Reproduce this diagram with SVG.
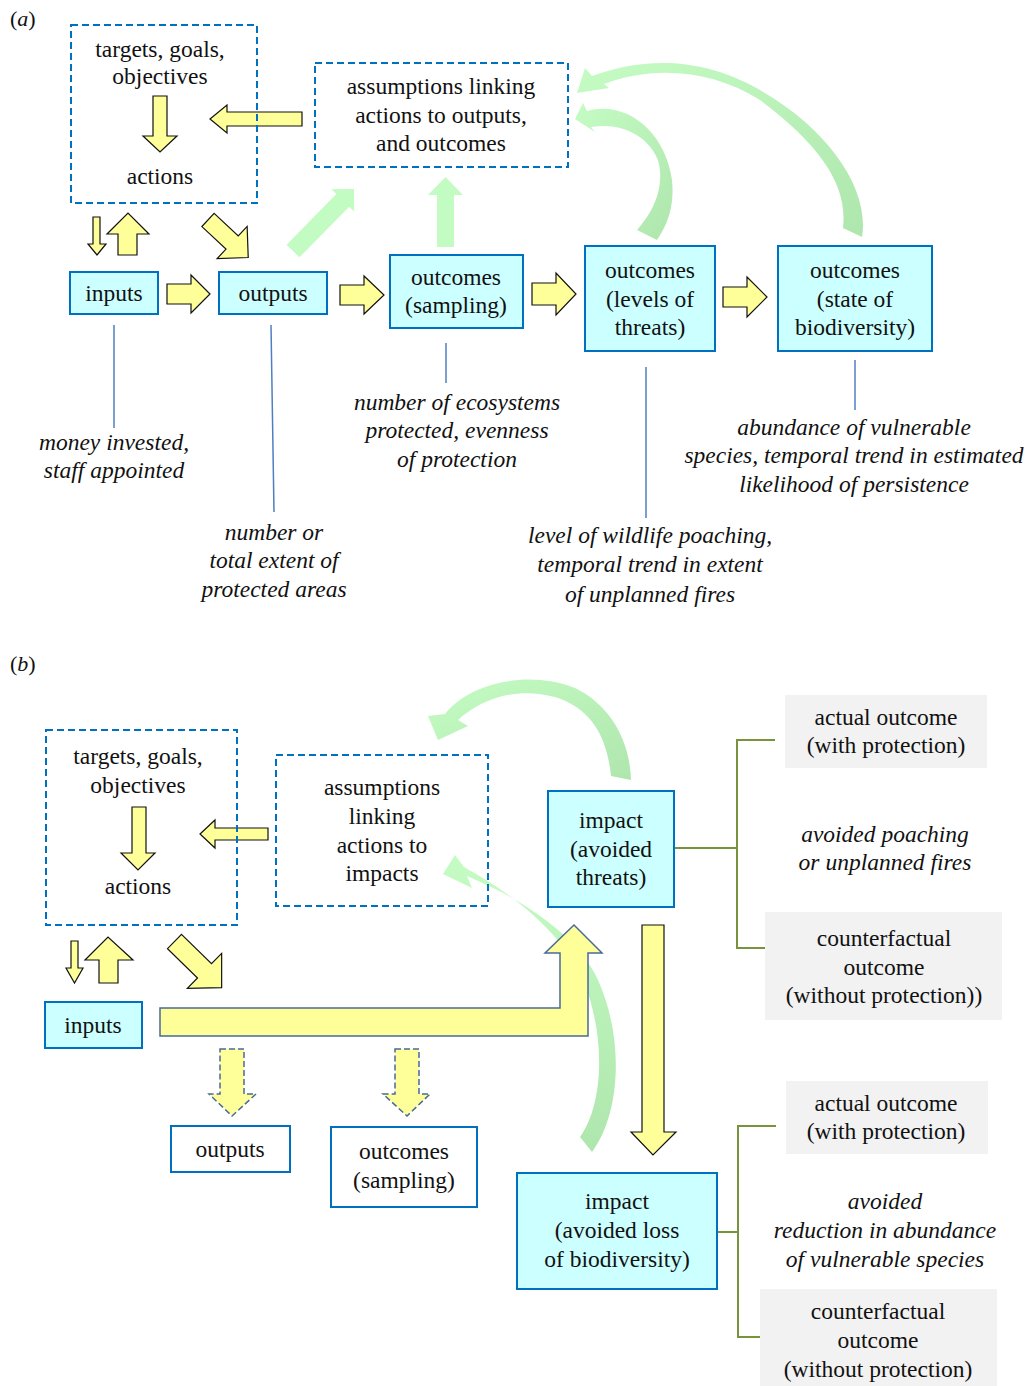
<svg xmlns="http://www.w3.org/2000/svg" width="1033" height="1386" viewBox="0 0 1033 1386">
<defs>
<style>
text{font-family:"Liberation Serif","Times New Roman",serif;font-size:23.5px;fill:#111;text-anchor:middle}
.it{font-style:italic}
.box{fill:#ccffff;stroke:#0070c0;stroke-width:2}
.wbox{fill:#fff;stroke:#0070c0;stroke-width:2}
.dash{fill:none;stroke:#0070c0;stroke-width:2;stroke-dasharray:7 4}
.gray{fill:#f2f2f2}
.ya{fill:#ffff99;stroke:#111;stroke-width:1.2}
.yb{fill:#ffff99;stroke:#4a6a9a;stroke-width:1.5}
.yd{fill:#ffff99;stroke:#4a6a9a;stroke-width:1.5;stroke-dasharray:6 3}
.ga{fill:#c3fcc3}
.ln{stroke:#4f7fc0;stroke-width:1.5;fill:none}
.br{stroke:#77933c;stroke-width:2;fill:none}
</style>
<linearGradient id="gA" x1="0" y1="0" x2="1" y2="1"><stop offset="0" stop-color="#c4fcc4"/><stop offset="1" stop-color="#aee6ae"/></linearGradient>
<linearGradient id="gB" x1="0" y1="0" x2="1" y2="1"><stop offset="0" stop-color="#c4fcc4"/><stop offset="1" stop-color="#aee6ae"/></linearGradient>
<linearGradient id="gC" x1="0" y1="0" x2="0" y2="1"><stop offset="0" stop-color="#c4fcc4"/><stop offset="1" stop-color="#aee6ae"/></linearGradient>
</defs>
<rect width="1033" height="1386" fill="#fff"/>

<text x="10" y="26" style="text-anchor:start;font-size:22px">(<tspan class="it">a</tspan>)</text>
<text x="10" y="671" style="text-anchor:start;font-size:22px">(<tspan class="it">b</tspan>)</text>

<g id="connectors">
<!-- part a green arrows -->
<path class="ga" d="M0,-9 L71,-9 L71,-16 L87,0 L71,16 L71,9 L0,9 Z" transform="translate(293,251) rotate(-45.5)"/>
<path class="ga" d="M437,247 L437,195 L428,195 L445.5,177 L463,195 L454,195 L454,247 Z"/>
<path fill="url(#gA)" d="M637,230 C655,210 665,185 658,160 C648,135 620,122 591,127 L595,132 L575,119 L583,103 L587,111 C625,100 665,130 672,180 C675,210 665,228 657,240 Z"/>
<path fill="url(#gB)" d="M843,228 C848,185 820,145 760,100 C710,68 650,66 604,84 L609,88 L577,93 L585,68 L592,76 C640,58 700,55 760,90 C830,130 870,190 862,237 Z"/>
<!-- part a yellow arrows -->
<path class="ya" d="M153,96 L167,96 L167,136 L177,136 L160,152 L143,136 L153,136 Z"/>
<path class="ya" d="M302,112 L227,112 L227,105 L210,119 L227,133 L227,126 L302,126 Z"/>
<path class="ya" d="M93,217 L100,217 L100,244 L106,244 L97,255 L88,244 L93,244 Z"/>
<path class="ya" d="M118,255 L118,234 L107,234 L128,213 L149,234 L137,234 L137,255 Z"/>
<path class="ya" d="M0,-9 L33,-9 L33,-22 L55,0 L33,22 L33,9 L0,9 Z" transform="translate(208,220) rotate(43)"/>
<path class="ya" d="M167,284 L191,284 L191,275 L210,294 L191,313 L191,304 L167,304 Z"/>
<path class="ya" d="M340,285 L364,285 L364,276 L384,295 L364,314 L364,305 L340,305 Z"/>
<path class="ya" d="M532,283 L556,283 L556,273 L576,294 L556,315 L556,305 L532,305 Z"/>
<path class="ya" d="M723,287 L747,287 L747,277 L767,297 L747,317 L747,307 L723,307 Z"/>
<!-- part a lines -->
<line class="ln" x1="114" y1="325" x2="114" y2="428"/>
<line class="ln" x1="271" y1="325" x2="274" y2="512"/>
<line class="ln" x1="446" y1="343" x2="446" y2="383"/>
<line class="ln" x1="646" y1="367" x2="646" y2="518"/>
<line class="ln" x1="855" y1="360" x2="855" y2="410"/>

<!-- part b green arrows -->
<path fill="url(#gB)" d="M611,776 C607,735 590,708 555,697 C515,686 480,700 458,720 L468,726 L438,740 L428,716 L445,714 C470,682 530,670 575,688 C610,705 630,740 631,780 Z"/>
<path fill="url(#gC)" d="M580,1137 C603,1105 606,1040 585,985 C565,935 515,895 464,867 L455,855 L443,874 L472,888 L467,876 C520,898 578,935 598,980 C625,1040 620,1115 592,1152 Z"/>
<!-- part b yellow arrows -->
<path class="ya" d="M132,807 L146,807 L146,853 L155,853 L138,870 L121,853 L132,853 Z"/>
<path class="ya" d="M268,828 L215,828 L215,820 L200,834 L215,848 L215,840 L268,840 Z"/>
<path class="ya" d="M71,941 L78,941 L78,968 L83,968 L74.5,983 L66,968 L71,968 Z"/>
<path class="ya" d="M99,983 L99,960 L85,960 L108,937 L133,960 L118,960 L118,983 Z"/>
<path class="ya" d="M0,-10 L42,-10 L42,-24.5 L66,0 L42,24.5 L42,10 L0,10 Z" transform="translate(174.5,941.5) rotate(44.4)"/>
<path class="yb" d="M160,1008 L560,1008 L560,953 L545,953 L574,925 L602,953 L588,953 L588,1036 L160,1036 Z"/>
<path class="ya" d="M642,925 L664,925 L664,1132 L676,1132 L653,1155 L631,1132 L642,1132 Z"/>
<path class="yd" d="M220,1049 L244,1049 L244,1094 L256,1094 L232,1116 L209,1094 L220,1094 Z"/>
<path class="yd" d="M395,1049 L419,1049 L419,1094 L430,1094 L407,1116 L383,1094 L395,1094 Z"/>
<!-- brackets -->
<path class="br" d="M775,740 L737,740 L737,948 L774,948 M674,848 L737,848"/>
<path class="br" d="M776,1126 L738,1126 L738,1337 L775,1337 M718,1232 L738,1232"/>
</g>

<!-- Part a nodes -->
<g id="a-targets">
<rect class="dash" x="71" y="25" width="186" height="178"/>
<text x="160" y="57">targets, goals,</text>
<text x="160" y="84">objectives</text>
<text x="160" y="184">actions</text>
</g>
<g id="a-assumptions">
<rect class="dash" x="315" y="63" width="253" height="104"/>
<text x="441" y="94">assumptions linking</text>
<text x="441" y="123">actions to outputs,</text>
<text x="441" y="151">and outcomes</text>
</g>
<g id="a-inputs">
<rect class="box" x="70" y="272" width="88" height="42"/>
<text x="114" y="301">inputs</text>
</g>
<g id="a-outputs">
<rect class="box" x="219" y="272" width="108" height="42"/>
<text x="273" y="301">outputs</text>
</g>
<g id="a-sampling">
<rect class="box" x="390" y="255" width="133" height="73"/>
<text x="456" y="285">outcomes</text>
<text x="456" y="313">(sampling)</text>
</g>
<g id="a-threats">
<rect class="box" x="585" y="246" width="130" height="105"/>
<text x="650" y="278">outcomes</text>
<text x="650" y="307">(levels of</text>
<text x="650" y="335">threats)</text>
</g>
<g id="a-biodiversity">
<rect class="box" x="778" y="246" width="154" height="105"/>
<text x="855" y="278">outcomes</text>
<text x="855" y="307">(state of</text>
<text x="855" y="335">biodiversity)</text>
</g>
<g id="a-labels">
<text class="it" x="114" y="450">money invested,</text>
<text class="it" x="114" y="478">staff appointed</text>
<text class="it" x="274" y="540">number or</text>
<text class="it" x="274" y="568">total extent of</text>
<text class="it" x="274" y="597">protected areas</text>
<text class="it" x="457" y="410">number of ecosystems</text>
<text class="it" x="457" y="438">protected, evenness</text>
<text class="it" x="457" y="467">of protection</text>
<text class="it" x="650" y="543">level of wildlife poaching,</text>
<text class="it" x="650" y="572">temporal trend in extent</text>
<text class="it" x="650" y="602">of unplanned fires</text>
<text class="it" x="854" y="435">abundance of vulnerable</text>
<text class="it" x="854" y="463">species, temporal trend in estimated</text>
<text class="it" x="854" y="492">likelihood of persistence</text>
</g>

<!-- Part b nodes -->
<g id="b-targets">
<rect class="dash" x="46" y="730" width="191" height="195"/>
<text x="138" y="764">targets, goals,</text>
<text x="138" y="793">objectives</text>
<text x="138" y="894">actions</text>
</g>
<g id="b-assumptions">
<rect class="dash" x="276" y="755" width="212" height="151"/>
<text x="382" y="795">assumptions</text>
<text x="382" y="824">linking</text>
<text x="382" y="853">actions to</text>
<text x="382" y="881">impacts</text>
</g>
<g id="b-inputs">
<rect class="box" x="45" y="1002" width="97" height="46"/>
<text x="93" y="1033">inputs</text>
</g>
<g id="b-outputs">
<rect class="wbox" x="171" y="1126" width="119" height="46"/>
<text x="230" y="1157">outputs</text>
</g>
<g id="b-sampling">
<rect class="wbox" x="331" y="1127" width="146" height="80"/>
<text x="404" y="1159">outcomes</text>
<text x="404" y="1188">(sampling)</text>
</g>
<g id="b-impact-threats">
<rect class="box" x="548" y="791" width="126" height="116"/>
<text x="611" y="828">impact</text>
<text x="611" y="857">(avoided</text>
<text x="611" y="885">threats)</text>
</g>
<g id="b-impact-biodiversity">
<rect class="box" x="517" y="1173" width="200" height="116"/>
<text x="617" y="1209">impact</text>
<text x="617" y="1238">(avoided loss</text>
<text x="617" y="1267">of biodiversity)</text>
</g>
<g id="b-actual-1">
<rect class="gray" x="785" y="695" width="202" height="73"/>
<text x="886" y="725">actual outcome</text>
<text x="886" y="753">(with protection)</text>
</g>
<g id="b-avoided-1">
<text class="it" x="885" y="842">avoided poaching</text>
<text class="it" x="885" y="870">or unplanned fires</text>
</g>
<g id="b-counter-1">
<rect class="gray" x="765" y="912" width="237" height="108"/>
<text x="884" y="946">counterfactual</text>
<text x="884" y="975">outcome</text>
<text x="884" y="1003">(without protection))</text>
</g>
<g id="b-actual-2">
<rect class="gray" x="786" y="1081" width="202" height="73"/>
<text x="886" y="1111">actual outcome</text>
<text x="886" y="1139">(with protection)</text>
</g>
<g id="b-avoided-2">
<text class="it" x="885" y="1209">avoided</text>
<text class="it" x="885" y="1238">reduction in abundance</text>
<text class="it" x="885" y="1267">of vulnerable species</text>
</g>
<g id="b-counter-2">
<rect class="gray" x="760" y="1289" width="237" height="97"/>
<text x="878" y="1319">counterfactual</text>
<text x="878" y="1348">outcome</text>
<text x="878" y="1377">(without protection)</text>
</g>
</svg>
